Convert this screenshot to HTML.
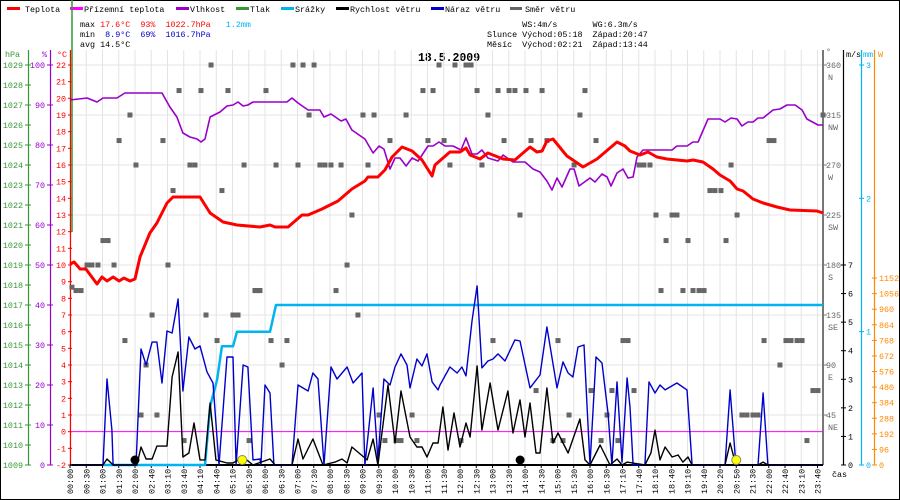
<!DOCTYPE html>
<html><head><meta charset="utf-8">
<style>
html,body{margin:0;padding:0;background:#fff}
#wrap{position:relative;width:900px;height:500px;overflow:hidden}
svg{position:absolute;left:0;top:0}
text{font-family:"Liberation Mono","DejaVu Sans Mono",monospace;font-size:8.4px}
</style></head>
<body>
<div id="wrap">
<svg id="chart" width="900" height="500" viewBox="0 0 900 500">
<rect x="0.5" y="0.5" width="899" height="499" fill="#fff" stroke="#000"/>
<g>
 <g><rect x="7" y="7" width="13" height="3" fill="#f00"/><text x="25" y="12">Teplota</text></g>
 <g><rect x="70" y="7" width="13" height="3" fill="#f0f"/><text x="84" y="12">Přízemní teplota</text></g>
 <g><rect x="176" y="7" width="13" height="3" fill="#90c"/><text x="190" y="12">Vlhkost</text></g>
 <g><rect x="236" y="7" width="13" height="3" fill="#393"/><text x="250" y="12">Tlak</text></g>
 <g><rect x="281" y="7" width="13" height="3" fill="#00b4f0"/><text x="295" y="12">Srážky</text></g>
 <g><rect x="336" y="7" width="13" height="3" fill="#000"/><text x="350" y="12">Rychlost větru</text></g>
 <g><rect x="431" y="7" width="13" height="3" fill="#00c"/><text x="445" y="12">Náraz větru</text></g>
 <g><rect x="510" y="7" width="12" height="3" fill="#666"/><text x="525" y="12">Směr větru</text></g>
</g>
<g style="white-space:pre">
 <text x="80" y="27" xml:space="preserve">max <tspan fill="#f00">17.6°C  93%  1022.7hPa</tspan>   <tspan fill="#00b4f0">1.2mm</tspan></text>
 <text x="80" y="37" xml:space="preserve">min  <tspan fill="#00c">8.9°C  69%  1016.7hPa</tspan></text>
 <text x="80" y="47" xml:space="preserve">avg 14.5°C</text>
 <text x="487" y="27" xml:space="preserve">       WS:4m/s       WG:6.3m/s</text>
 <text x="487" y="37" xml:space="preserve">Slunce Východ:05:18  Západ:20:47</text>
 <text x="487" y="47" xml:space="preserve">Měsíc  Východ:02:21  Západ:13:44</text>
</g>
<text x="418" y="61" style="font-size:11.5px;font-weight:bold">18.5.2009</text>
<g id="grid"></g>
<g id="axes"></g>
<g id="series"></g>
</svg>
</div>
<script>
// x positions are in label-index units (0 = 00:00 label, 46 = 23:40 label)
const timeLabels = ["00:00","00:30","01:00","01:30","02:00","02:40","03:10","03:40","04:10","04:40","05:10","05:30","06:00","06:30","07:00","07:30","08:00","08:30","09:00","09:30","10:00","10:30","11:00","11:30","12:00","12:30","13:00","13:30","14:00","14:30","15:00","15:30","16:00","16:30","17:10","17:40","18:10","18:40","19:10","19:40","20:20","20:50","21:30","22:00","22:40","23:10","23:40"];
const tempT = [0,0.25,0.62,0.98,1.66,1.97,2.28,2.65,3.02,3.32,3.69,4.0,4.31,4.92,5.35,5.97,6.34,8.0,8.62,9.42,10.28,11.69,12.31,12.62,13.42,14.28,14.65,15.51,16.49,17.35,18.15,18.34,18.95,19.38,19.82,20.43,21.05,21.66,22.28,22.46,23.38,24.0,24.37,24.62,25.23,25.72,26.65,27.38,27.88,28.31,28.74,29.05,29.35,29.72,30.58,30.95,31.57,32.43,33.66,34.15,34.46,35.08,35.57,36.12,36.74,37.97,38.34,38.95,39.57,40.0,40.62,41.05,41.42,42.03,42.65,43.51,44.31,45.97,46.34];
const tempV = [10.05,10.18,9.76,9.76,8.86,9.28,9.04,9.28,9.04,9.22,9.04,9.16,10.48,11.92,12.52,13.72,14.08,14.08,13.12,12.58,12.4,12.28,12.4,12.28,12.28,13.0,13.0,13.36,13.84,14.56,15.04,15.28,15.28,15.7,16.48,17.08,16.84,16.3,15.34,16.0,16.78,16.78,17.02,16.6,16.36,16.72,16.36,16.3,16.72,17.08,16.78,16.84,17.44,17.56,16.54,16.3,15.88,16.36,17.38,17.14,16.84,16.6,16.78,16.48,16.36,16.24,16.3,16.18,15.76,15.4,15.04,14.56,14.44,13.96,13.72,13.48,13.3,13.24,13.12];
const humT = [0,1.05,1.66,2.03,2.89,3.38,5.66,6.15,6.58,6.95,7.38,7.82,8.06,8.31,8.62,9.23,9.66,10.03,10.34,10.65,10.95,11.26,13.35,13.66,14.03,14.65,15.38,15.63,16.06,16.68,16.98,17.35,18.15,18.65,19.02,19.32,19.69,20.0,20.31,20.68,21.05,21.42,22.03,22.34,22.71,23.08,23.57,24.06,24.37,24.74,25.05,25.35,25.72,26.34,26.65,27.26,28.0,28.49,28.92,29.35,29.66,29.97,30.28,30.77,31.02,31.32,32.0,32.31,32.74,33.05,33.29,33.66,34.03,34.34,34.65,34.89,35.26,37.05,37.35,37.97,38.34,38.65,39.26,40.0,40.31,40.68,41.05,41.35,41.72,42.03,42.34,42.65,43.26,43.69,44.12,44.62,45.05,45.35,46.03,46.34];
const humV = [91.25,91.75,90.75,91.75,91.75,93,93,89.5,87,83,82,81.5,80.75,81.5,87,88.25,89.75,90,90.75,89.75,90,90.75,90.75,91.75,90.5,88.75,88.75,87,87.75,86,86.5,83.75,81.5,78,79.75,79,74,76.75,76.75,74.75,76.75,76,79.75,79.75,80.75,79.75,79.75,78.75,81.75,77.75,77.75,78.75,76.75,76,77.5,75.75,75.75,74,73.25,71,68.75,71.75,69.5,74,74,69.75,71.75,70.75,72.75,72,69.75,73,74,71.75,72,77,78.75,78.75,79.75,79.75,80.75,80.75,86.5,86.5,85.75,86.75,86.5,84.75,85.75,85.75,86.75,86.75,88.75,89,90,90,88.75,86.5,85,85];
const gustT = [0,2.03,2.28,2.58,2.65,4.06,4.37,4.68,5.05,5.35,5.66,5.97,6.28,6.65,6.95,7.32,7.69,8.0,8.43,8.8,9.17,9.66,10.03,10.22,10.65,10.95,11.26,11.69,11.75,12.0,12.31,12.55,13.66,14.03,14.65,14.95,15.26,15.63,16.06,16.43,17.05,17.42,17.97,18.15,18.65,18.95,19.32,19.69,20.0,20.37,20.74,20.92,21.35,21.66,21.97,22.28,22.65,22.77,23.38,23.82,24.12,24.37,24.74,25.05,25.35,25.72,26.03,26.34,26.77,27.38,27.69,28.31,28.92,29.35,29.97,30.34,30.65,30.95,31.26,31.63,32.0,32.37,32.74,33.11,33.35,33.66,33.97,34.28,34.46,34.65,35.38,35.63,36.0,36.31,36.62,37.35,37.97,38.28,40.31,40.62,40.98,42.34,42.65,42.95,46.34];
const gustV = [0,0,3.01,1.23,0,0,4.06,3.5,4.3,4.3,2.87,4.69,4.62,5.81,2.59,4.48,4.06,4.17,3.26,2.87,0,3.78,3.78,0,3.5,3.43,0.18,0.21,0,2.8,2.52,0,0,2.8,2.59,3.22,3.01,0,3.43,3.01,3.43,2.87,3.22,0,2.7,0.18,3.01,2.8,3.43,3.89,3.5,2.7,3.71,3.47,3.89,2.91,2.63,2.8,3.43,3.22,3.43,3.12,5.04,6.27,3.4,3.64,3.71,3.89,3.64,4.38,4.34,2.7,3.15,4.83,2.7,3.61,3.22,3.08,4.13,4.2,0,3.78,3.57,1.82,0,2.91,0.1,3.05,2.03,0,0,2.91,2.52,2.8,2.63,2.87,2.63,0,0,2.63,0,0,2.52,0,0];
const speedT = [0,2.03,2.28,2.65,4.12,4.37,4.68,5.05,5.35,5.97,6.28,6.65,6.95,7.32,7.63,8.0,8.31,8.62,8.98,9.66,10.03,10.65,11.26,12.31,12.62,13.66,14.03,14.34,14.95,15.57,16.31,16.74,17.05,17.35,18.28,18.65,18.95,19.57,20.0,20.37,20.92,21.35,21.66,21.97,22.34,22.65,22.95,23.26,23.63,24.0,24.37,24.62,25.05,25.35,25.85,26.34,26.95,27.26,27.69,28.0,28.31,28.68,28.92,29.35,29.72,30.03,30.65,31.38,31.69,32.0,32.62,33.23,33.66,33.97,34.28,35.38,35.75,36.0,36.31,36.62,37.05,37.42,37.72,38.03,38.28,40.31,40.62,40.98,42.34,42.65,42.95,46.34];
const speedV = [0,0,0.21,0,0,0.63,0.21,0.21,0.66,0.66,3.08,3.96,0.28,0.42,1.47,0.18,0.18,2.17,0.18,0.07,0.07,0.28,0,0.21,0,0,0.91,0.21,0.91,0,0.1,0.21,0.07,0.63,0.18,0.91,0,2.8,0.77,2.59,0.98,0.63,0.63,0.28,0.77,0.77,2.03,0.52,1.82,0.63,1.47,0.98,3.47,1.22,2.87,1.22,2.59,1.12,2.28,0.98,2.17,0.42,0.42,2.7,0.77,1.12,0.42,1.61,0.18,0,0.7,0,0.21,0,0.1,0,0.42,1.22,0.18,0.63,0.28,0.35,0.1,0.28,0,0,0.77,0,0,0.1,0,0];
const rainT = [2.03,8.31,8.62,9.05,9.35,10.03,10.28,12.31,12.68,46.34];
const rainV = [0,0,0.44,0.64,0.89,0.89,1.0,1.0,1.2,1.2];
const dirT = [8.68,6.71,8.06,9.72,3.69,3.02,5.72,4.06,7.38,7.69,10.71,6.34,9.35,2.03,2.34,1.05,1.35,1.72,2.71,6.03,0.12,0.37,0.68,11.38,11.63,5.05,8.37,10.03,10.34,3.38,9.05,4.68,4.37,5.35,7.02,11.02,
13.72,14.34,15.02,22.71,12.06,21.72,22.34,14.71,18.03,18.71,20.68,19.69,22.03,23.02,12.68,14.03,15.38,15.69,16.06,16.68,18.34,17.35,17.05,11.45,11.69,16.37,17.72,12.37,13.35,13.05,19.02,21.05,19.38,20.06,20.37,21.35,
23.69,24.37,24.68,25.05,26.34,27.02,27.38,28.06,29.05,31.69,25.72,31.38,26.71,28.37,29.35,32.37,23.38,25.35,31.02,27.69,26.03,30.03,34.03,34.34,28.68,32.06,33.35,30.71,33.05,24.06,29.72,30.34,32.68,33.72,
43.02,43.32,35.02,35.32,35.69,40.68,39.38,39.69,40.06,36.06,37.05,37.35,41.05,36.68,38.03,40.37,36.37,37.72,38.34,38.71,39.02,42.71,44.06,44.37,44.74,45.05,43.69,34.71,45.72,46.03,41.35,41.66,42.03,42.34,45.35,46.34];
const dirV = [360,337,337,337,315,292,292,270,270,270,270,247,247,202,202,180,180,180,180,180,160,157,157,157,157,135,135,135,135,112,112,90,45,45,22,22,
360,360,360,360,337,337,337,315,315,315,315,292,292,292,270,270,270,270,270,270,270,225,180,157,157,157,135,112,112,90,45,45,22,22,22,22,
360,360,360,337,337,337,337,337,337,337,315,315,292,292,292,292,270,270,270,225,112,112,112,112,67,67,67,45,45,22,22,22,22,22,
292,292,270,270,270,270,247,247,247,225,225,225,225,202,202,202,157,157,157,157,157,112,112,112,112,112,90,67,67,67,45,45,45,45,22,315];
const markerT = [4.0,10.6,27.7,41.0];
const markerKind = ["moon","sun","moon","sun"];

const NS="http://www.w3.org/2000/svg";
const X0=70, XS=16.25, PL=72, PR=823, PT=65, PB=465;
const xOf = u => X0 + u*XS;
const yTemp = v => PB - (v+2)*(PB-PT)/24;
const yHum = v => PB - v*(PB-PT)/100;
const yHpa = v => PB - (v-1009)*(PB-PT)/20;
const yWind = v => PB - v*(PB-PT)/14;
const yRain = v => PB - v*(PB-PT)/3;
const yDir = v => PB - v*(PB-PT)/360;
const yW = v => PB - v*15.58/96;
function mk(tag, attrs, parent){const e=document.createElementNS(NS,tag);for(const k in attrs)e.setAttribute(k,attrs[k]);parent.appendChild(e);return e;}
const grid=document.getElementById('grid'), axes=document.getElementById('axes'), series=document.getElementById('series');

// grid
timeLabels.forEach((l,i)=>{const x=xOf(i);
 const g=mk('line',{x1:x,y1:50,x2:x,y2:PB,stroke:'#e4e4e4','stroke-width':1},grid);
 
 
});
for(let d=45; d<=360; d+=45){const y=yDir(d);
 const g=mk('line',{x1:PL,y1:y,x2:PR,y2:y,stroke:'#e4e4e4','stroke-width':1},grid);
 
 
}

// left axes
function axisLine(x,y1,y2,col,w,name){const l=mk('line',{x1:x,y1:y1,x2:x,y2:y2,stroke:col,'stroke-width':w},axes);
 
 
}
axisLine(28.5,50,PB,'#393',1.2,'hpa-axis');
axisLine(50.5,50,PB,'#90c',1.2,'humidity-axis');
axisLine(70.5,50,PB,'#f00',1.2,'temperature-axis');
function label(x,y,s,col,anchor,name){const t=mk('text',{x:x,y:y,fill:col,'text-anchor':anchor},axes);t.textContent=s;
 
 
 return t;}
label(5,57,'hPa','#393','start','hpa-axis-title');
label(42,57,'%','#90c','start','humidity-axis-title');
label(57,57,'°C','#f00','start','temperature-axis-title');
for(let p=1009;p<=1029;p++){const y=yHpa(p);mk('line',{x1:25,y1:y,x2:31,y2:y,stroke:'#393'},axes);label(23,y+3,String(p),'#393','end','hpa-tick-label');}
for(let h=0;h<=100;h+=10){const y=yHum(h);mk('line',{x1:47,y1:y,x2:53,y2:y,stroke:'#90c'},axes);label(45,y+3,String(h),'#90c','end','humidity-tick-label');}
for(let c=-2;c<=22;c++){const y=yTemp(c);mk('line',{x1:68,y1:y,x2:72,y2:y,stroke:'#f00'},axes);label(66,y+3,String(c),'#f00','end','temperature-tick-label');}

// right axes
axisLine(823,50,PB,'#777',2,'direction-axis');
axisLine(843.5,50,PB,'#000',1.2,'wind-axis');
axisLine(861.5,50,PB,'#00b4f0',1.2,'rain-axis');
axisLine(874.5,50,PB,'#f80',1.2,'power-axis');
label(826,54,'°','#666','start','direction-axis-title');
label(846,57,'m/s','#000','start','wind-axis-title');
label(863,57,'mm','#00b4f0','start','rain-axis-title');
label(878,57,'W','#f80','start','power-axis-title');
const dirNames={360:'N',315:'NW',270:'W',225:'SW',180:'S',135:'SE',90:'E',45:'NE'};
for(let d=45;d<=360;d+=45){const y=yDir(d);mk('line',{x1:823,y1:y,x2:827,y2:y,stroke:'#777'},axes);label(826,y+3,String(d),'#666','start','direction-tick-label');label(828,y+15,dirNames[d],'#666','start','direction-name-label');}
for(let w=0;w<=7;w++){const y=yWind(w);mk('line',{x1:841,y1:y,x2:846,y2:y,stroke:'#000'},axes);label(848,y+3,String(w),'#000','start','wind-tick-label');}
for(let r=0;r<=3;r++){const y=yRain(r);mk('line',{x1:859,y1:y,x2:864,y2:y,stroke:'#00b4f0'},axes);label(866,y+3,String(r),'#00b4f0','start','rain-tick-label');}
for(let w=0;w<=1152;w+=96){const y=yW(w);mk('line',{x1:872,y1:y,x2:877,y2:y,stroke:'#f80'},axes);label(879,y+3,String(w),'#f80','start','power-tick-label');}

// x axis
axisLine(0,0,0,'#fff',0,'unused');
const xa=mk('line',{x1:PL,y1:PB,x2:PR,y2:PB,stroke:'#000','stroke-width':2},axes);


timeLabels.forEach((l,i)=>{const x=xOf(i);
 mk('line',{x1:x,y1:PB,x2:x,y2:PB+3,stroke:'#000'},axes);
 const t=mk('text',{transform:`translate(${x+3},494) rotate(-90)`,fill:'#000'},axes);t.textContent=l;
 
 
});
label(832,477,'čas','#000','start','x-axis-title');

// static pressure/edge segments
const ps=mk('line',{x1:72,y1:0,x2:72,y2:232,stroke:'#393','stroke-width':1.5},series);


const tz=mk('line',{x1:71,y1:yTemp(0),x2:PR,y2:yTemp(0),stroke:'#f0f','stroke-width':1},series);



function line(T,V,yf,col,w,name){const pts=T.map((t,i)=>xOf(t).toFixed(1)+','+yf(V[i]).toFixed(1)).join(' ');
 const p=mk('polyline',{points:pts,fill:'none',stroke:col,'stroke-width':w,'stroke-linejoin':'round'},series);
 
 
}
// direction squares
dirT.forEach((t,i)=>{const r=mk('rect',{x:xOf(t)-2.5,y:yDir(dirV[i])-2.5,width:5,height:5,fill:'#666'},series);
 
 
});
line(rainT,rainV,yRain,'#00b4f0',2.5,'rain-line');
line(humT,humV,yHum,'#90c',1.6,'humidity-line');
line(tempT,tempV,yTemp,'#f00',3,'temperature-line');
line(gustT,gustV,yWind,'#00c',1.4,'wind-gust-line');
line(speedT,speedV,yWind,'#000',1.4,'wind-speed-line');
markerT.forEach((t,i)=>{const sun=markerKind[i]==='sun';
 const c=mk('circle',{cx:xOf(t),cy:460,r:sun?4.5:4,fill:sun?'#ff0':'#000',stroke:sun?'#886':'#000','stroke-width':1},series);
 
 
});
</script>
</body></html>
